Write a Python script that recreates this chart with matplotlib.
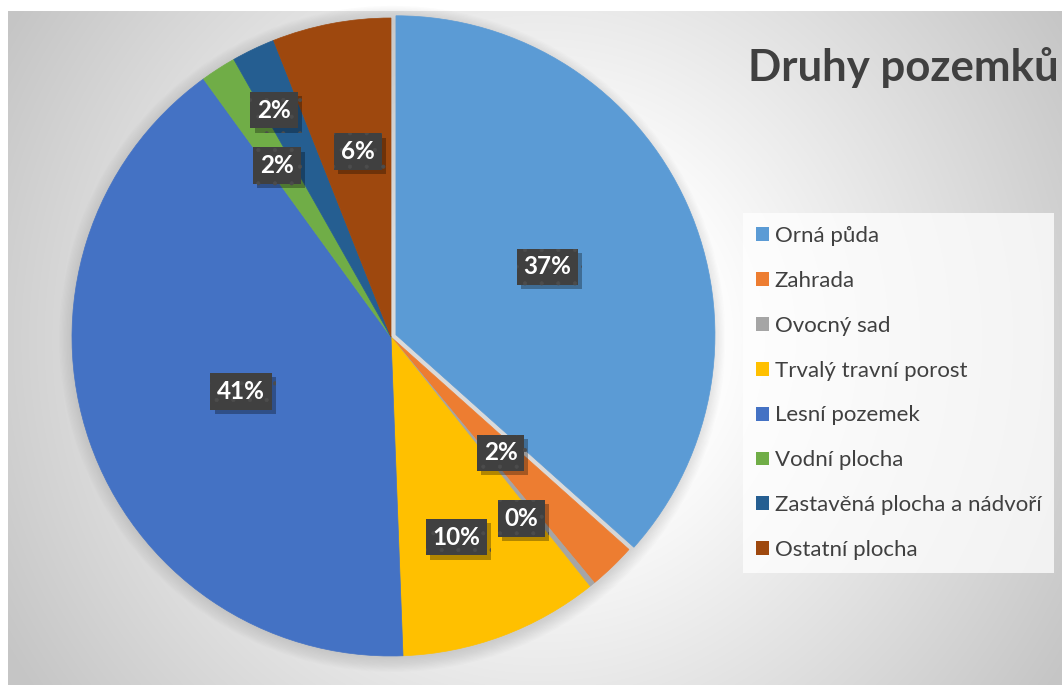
import numpy as np
import matplotlib
matplotlib.use("Agg")
import matplotlib.pyplot as plt
from matplotlib.patches import Patch, Circle
import matplotlib.patheffects as pe

plt.rcParams['font.family'] = ['Lato', 'DejaVu Sans']
plt.rcParams['hatch.linewidth'] = 0.5

# ---- data ----
categories = ["Orná půda", "Zahrada", "Ovocný sad", "Trvalý travní porost",
              "Lesní pozemek", "Vodní plocha", "Zastavěná plocha a nádvoří",
              "Ostatní plocha"]
values = [36.6, 2.4, 0.3, 10.1, 40.6, 1.8, 2.2, 6.0]
colors = ["#5B9BD5", "#ED7D31", "#A5A5A5", "#FFC000",
          "#4472C4", "#70AD47", "#255E91", "#9E480E"]
title = "Druhy pozemků"

# label placement (radius fraction, angle nudge in degrees)
lab_r = [0.52, 0.50, 0.70, 0.66, 0.50, 0.645, 0.80, 0.59]
lab_dang = [0.0, -0.5, -3.3, -2.2, 0.9, 0.9, 1.7, -0.7]
explode = [0.017, 0, 0, 0, 0, 0, 0, 0]

W, H = 1062, 687
fig = plt.figure(figsize=(W / 100, H / 100), dpi=100)
fig.patch.set_facecolor("white")

# ---- background gradient (chart area) ----
bx0, by0, bx1, by1 = 8, 11, 1062, 685  # pixel box, y from top
bg = fig.add_axes([bx0 / W, 1 - by1 / H, (bx1 - bx0) / W, (by1 - by0) / H])
bg.set_axis_off()
yy, xx = np.mgrid[by0:by1, bx0:bx1]
d = np.hypot(xx - 540, yy - 340)
t = np.clip((d - 170) / 450, 0, 1)
v = (255 - 58 * t) / 255.0
img = np.dstack([v, v, v])
bg.imshow(img, aspect="auto", extent=[0, 1, 0, 1], interpolation="bilinear")
bg.set_xlim(0, 1)
bg.set_ylim(0, 1)

# ---- pie ----
cx, cy, R = 391, 337, 319
ax = fig.add_axes([(cx - R) / W, (H - cy - R) / H, 2 * R / W, 2 * R / H])
ax.set_axis_off()

# soft shadow/glow
for k in range(12):
    ax.add_patch(Circle((0.004, -0.006), 1.0 + k * 0.004, facecolor="#7f7f7f",
                        edgecolor="none", alpha=0.025, zorder=0, clip_on=False))

wedges, _ = ax.pie(values, colors=colors, startangle=90, counterclock=False,
                   explode=explode, radius=1.0,
                   wedgeprops=dict(linewidth=0.5, zorder=2))
for w, c in zip(wedges, colors):
    w.set_edgecolor(c)
    w.set_clip_on(False)
ax.set_xlim(-1, 1)
ax.set_ylim(-1, 1)
ax.set_aspect("auto")

total = sum(values)
for i, w in enumerate(wedges):
    mid = np.deg2rad((w.theta1 + w.theta2) / 2 + lab_dang[i])
    r = lab_r[i]
    ox, oy = w.center
    x = ox + r * np.cos(mid)
    y = oy + r * np.sin(mid)
    pct = f"{values[i] / total * 100:.0f}%"
    txt = ax.text(x, y, pct, ha="center", va="center", color="white",
                  fontsize=17.5, fontweight="bold", zorder=5,
                  bbox=dict(boxstyle="square,pad=0.28", facecolor="#404040",
                            edgecolor="#4c4c4c", linewidth=0, hatch="."))
    txt.get_bbox_patch().set_path_effects(
        [pe.SimplePatchShadow(offset=(3, -3), shadow_rgbFace="black", alpha=0.3),
         pe.Normal()])

# ---- title ----
fig.text(748 / W, 1 - 68 / H, title, ha="left", va="center", fontsize=31.5,
         fontweight="bold", color="#404040")

# ---- legend ----
handles = [Patch(facecolor=c, edgecolor="none") for c in colors]
leg = fig.legend(handles, categories, loc="upper left",
                 bbox_to_anchor=(743 / W, 1 - 213 / H), borderaxespad=0,
                 frameon=True, fancybox=False, fontsize=16,
                 handlelength=0.58, handleheight=0.58, handletextpad=0.27,
                 labelspacing=1.12, borderpad=0.58, labelcolor="#404040")
frame = leg.get_frame()
frame.set_facecolor("white")
frame.set_alpha(0.75)
frame.set_edgecolor("none")

fig.savefig("out.png", dpi=100, facecolor=fig.get_facecolor())
